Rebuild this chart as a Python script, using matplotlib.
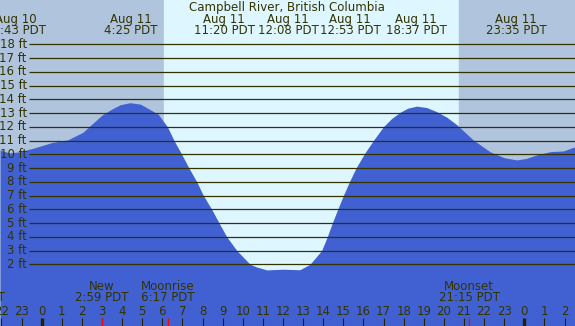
import matplotlib
matplotlib.use("Agg")
import matplotlib.pyplot as plt

# tide curve: hours from midnight Aug 11, height in ft
hours = [-2.07, -1.6, -1.1, -0.4, 0.5, 1.3, 2.05, 2.5, 3.0, 3.5, 3.9, 4.39,
         4.9, 5.39, 5.80, 6.25, 6.58, 6.96, 7.32, 7.71, 8.04, 8.45, 8.82,
         9.2, 9.7, 10.36, 10.69, 11.19, 12.01, 12.84, 13.34, 13.92, 14.2,
         14.45, 14.72, 15.0, 15.3, 15.63, 16.03, 16.49, 16.99, 17.4, 17.82,
         18.2, 18.65, 19.14, 19.64, 20.14, 20.64, 21.46, 22.29, 23.0, 23.62,
         24.1, 24.61, 25.28, 25.94, 26.52]
heights = [10.3, 10.1, 10.18, 10.45, 10.85, 11.05, 11.6, 12.2, 12.85, 13.3, 13.6, 13.75,
           13.65, 13.25, 12.9, 12.0, 11.0, 10.0, 9.0, 8.0, 7.0, 6.0, 5.0,
           4.0, 3.0, 2.0, 1.8, 1.59, 1.64, 1.6, 2.0, 3.0, 4.0,
           5.0, 6.0, 7.0, 8.0, 9.0, 10.0, 11.0, 12.0, 12.6, 13.05,
           13.35, 13.5, 13.4, 13.1, 12.7, 12.15, 11.04, 10.19, 9.75, 9.59,
           9.7, 9.95, 10.19, 10.24, 10.55]

sunrise = 6.08
sunset = 20.75

# top labels: (x position in hours, date, time)
tide_labels = [(-1.28, "Aug 10", "22:43 PDT"), (4.42, "Aug 11", "4:25 PDT"),
               (9.07, "Aug 11", "11:20 PDT"), (12.25, "Aug 11", "12:08 PDT"),
               (15.33, "Aug 11", "12:53 PDT"), (18.62, "Aug 11", "18:37 PDT"),
               (23.58, "Aug 11", "23:35 PDT")]

moon_events = [(2.98, "New", "2:59 PDT"), (6.28, "Moonrise", "6:17 PDT"),
               (21.25, "Moonset", "21:15 PDT")]

hour_ticks = list(range(-2, 27))
hour_names = [str(h % 24) for h in hour_ticks]
ft_levels = list(range(2, 19))

txt = "#333300"
x0, x1 = -2.074, 26.52
y0, y1 = -2.49, 21.22

fig = plt.figure(figsize=(5.75, 3.26), dpi=100)
ax = fig.add_axes([0, 0, 1, 1])
ax.set_xlim(x0, x1)
ax.set_ylim(y0, y1)
ax.axis("off")

ax.axvspan(x0, sunrise, color="#b0c4de", zorder=0)
ax.axvspan(sunrise, sunset, color="#ddf6ff", zorder=0)
ax.axvspan(sunset, x1, color="#b0c4de", zorder=0)
ax.fill_between(hours, heights, y0, color="#4161d3", lw=0, zorder=1)

ax.hlines(ft_levels, -0.63, x1, color=txt, lw=0.9, zorder=2)
for f in ft_levels:
    ax.text(-0.74, f, "%d ft" % f, ha="right", va="center", fontsize=8.5, color=txt)

ax.text(12.2, 20.68, "Campbell River, British Columbia", ha="center", va="center",
        fontsize=8.5, color=txt)
for x, d, t in tide_labels:
    ax.text(x, 19.8, d, ha="center", va="center", fontsize=8.5, color=txt)
    ax.text(x, 19.0, t, ha="center", va="center", fontsize=8.5, color=txt)

# hour ticks along the bottom
for h, name in zip(hour_ticks, hour_names):
    ax.text(h, -1.45, name, ha="center", va="center", fontsize=8.5, color=txt)
    if h % 24 == 0:
        ax.vlines(h, y0, -1.92, color="#222200", lw=2.4, zorder=3)
    else:
        ax.vlines(h, y0, -1.92, color="#222200", lw=0.8, zorder=3)

for x, name, t in moon_events:
    ax.text(x, 0.35, name, ha="center", va="center", fontsize=8.5, color=txt)
    ax.text(x, -0.45, t, ha="center", va="center", fontsize=8.5, color=txt)
    ax.vlines(x, y0, -1.92, color="red", lw=0.9, zorder=3)
ax.text(-1.82, -0.45, "20:41 PDT", ha="right", va="center", fontsize=8.5, color=txt)

fig.savefig("out.png", dpi=100)
